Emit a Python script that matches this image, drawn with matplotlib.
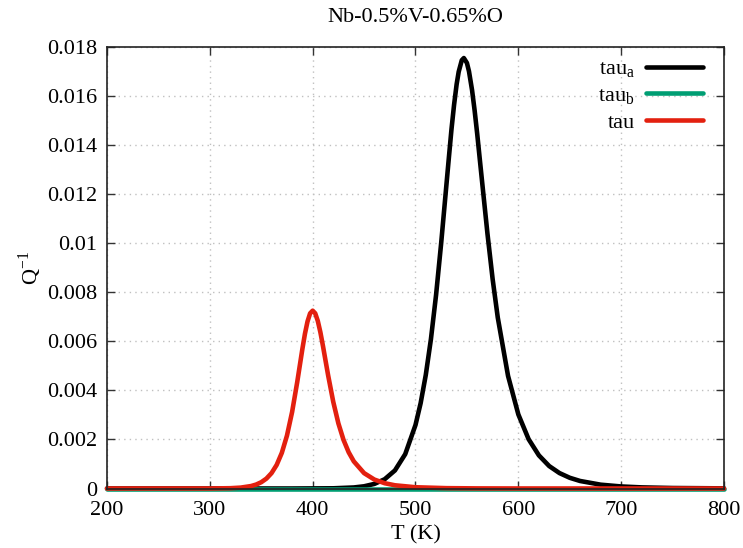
import matplotlib
matplotlib.use("Agg")
import matplotlib.pyplot as plt

plt.rcParams['font.family'] = ['Liberation Serif', 'DejaVu Serif']
plt.rcParams['mathtext.fontset'] = 'custom'
plt.rcParams['mathtext.rm'] = 'Liberation Serif'

title = "Nb-0.5%V-0.65%O"
xlabel = "T (K)"
ylabel = r"Q$^{\mathregular{-1}}$"

x_ticks = [200, 300, 400, 500, 600, 700, 800]
y_ticks = [0, 0.002, 0.004, 0.006, 0.008, 0.01, 0.012, 0.014, 0.016, 0.018]
y_tick_labels = ["0", "0.002", "0.004", "0.006", "0.008", "0.01", "0.012", "0.014", "0.016", "0.018"]

# tau_a (black)
T_a = [200, 300, 380, 420, 440, 450, 460, 470, 480, 490, 500, 505, 510, 515, 520, 525,
       530, 532.5, 535, 537.5, 540, 542, 545, 547, 550, 552, 555, 557.5, 560, 562.5, 565,
       570, 575, 580, 590, 600, 610, 620, 630, 640, 650, 660, 680, 700, 720, 750, 800]
Q_a = [0, 0, 0, 0.000008, 0.000042, 0.00009, 0.000187, 0.000377, 0.000737, 0.0014,
       0.00259, 0.00348, 0.00463, 0.00609, 0.00789, 0.01002,
       0.01235, 0.01351, 0.01465, 0.01564, 0.01648, 0.01699, 0.01746, 0.01755, 0.01735,
       0.01701, 0.01624, 0.01541, 0.01446, 0.01343, 0.01241,
       0.01038, 0.00854, 0.00697, 0.00459, 0.00302, 0.00201, 0.00135, 0.000915, 0.000629,
       0.000437, 0.000307, 0.000156, 0.000083, 0.000045, 0.00002, 0.0000055]

# tau_b (green)
T_b = [200, 300, 400, 500, 600, 700, 800]
Q_b = [0, 0, 0, 0, 0, 0, 0]

# tau (red)
T_r = [200, 300, 320, 330, 340, 345, 350, 355, 360, 365, 370, 375, 380, 385, 390, 392.5,
       395, 397.5, 400, 402.5, 405, 407.5, 410, 415, 420, 425, 430, 435, 440, 450, 460,
       470, 480, 500, 530, 560, 600, 700, 800]
Q_r = [0, 0.000001, 0.0000124, 0.0000362, 0.000099, 0.00016, 0.000256, 0.000403,
       0.000627, 0.000962, 0.001453, 0.002155, 0.003119, 0.004343, 0.00569, 0.00631,
       0.00681, 0.00714, 0.00725, 0.00714, 0.00683, 0.00637, 0.005814, 0.004622, 0.003537,
       0.002656, 0.001982, 0.001478, 0.001106, 0.000627, 0.000364,
       0.000216, 0.000131, 0.000051, 0.0000142, 0.0000045, 0.0000013, 0, 0]

fig = plt.figure(figsize=(7.43, 5.48), dpi=100)
L, R, TOP, BOT = 107, 724, 47, 488.5
ax = fig.add_axes([L/743, 1 - BOT/548, (R - L)/743, (BOT - TOP)/548])

lw = 3.3
ax.plot(T_a, Q_a, color='black', lw=lw, label=r"tau$_\mathregular{a}$", clip_on=False,
        solid_capstyle='round', solid_joinstyle='round')
ax.plot(T_b, Q_b, color='#009E73', lw=lw, label=r"tau$_\mathregular{b}$", clip_on=False,
        solid_capstyle='round')
ax.plot(T_r, Q_r, color='#E3200F', lw=lw, label="tau", clip_on=False,
        solid_capstyle='round', solid_joinstyle='round')

ax.set_xlim(200, 800)
ax.set_ylim(0, 0.018)
ax.set_xticks(x_ticks)
ax.set_xticklabels([str(t) for t in x_ticks])
ax.set_yticks(y_ticks)
ax.set_yticklabels(y_tick_labels)

fs = 16
ax.tick_params(direction='in', length=6, width=1, top=True, right=True,
               labelsize=fs, color='#333333')
ax.tick_params(axis='x', pad=9)
ax.tick_params(axis='y', pad=7)
for s in ax.spines.values():
    s.set_linewidth(1.2)
    s.set_color('#222222')

ax.grid(True, color='#c0c0c0', linestyle=(0, (1, 3)), linewidth=1)
ax.set_axisbelow(True)

ax.set_title(title, fontsize=fs, pad=18)
ax.set_xlabel(xlabel, fontsize=fs, labelpad=4)
ax.set_ylabel(ylabel, fontsize=fs, labelpad=2)

leg = ax.legend(loc='upper right', markerfirst=False, frameon=False, fontsize=fs,
                handlelength=2.55, handletextpad=0.5, labelspacing=0.25,
                borderaxespad=0.0, bbox_to_anchor=(0.98, 0.993))

fig.savefig("out.png", dpi=100)
